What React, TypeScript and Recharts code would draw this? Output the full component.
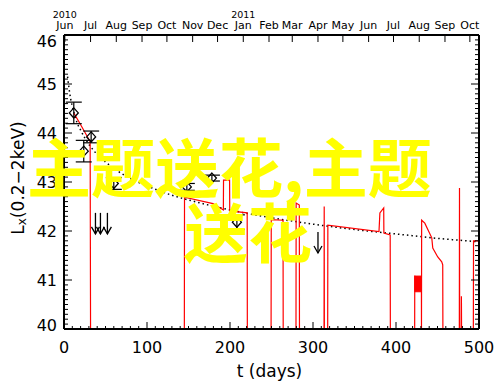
import React from 'react';
import { ComposedChart, Line, Scatter, XAxis, YAxis, ErrorBar, ReferenceArea, Label } from 'recharts';

const FONT = '"DejaVu Sans", sans-serif';

// dotted power-law decay model
const modelDays = [4.3, 6, 8, 10, 13, 16, 20, 25, 30, 40, 50, 65, 80, 100, 130, 160, 200, 250, 300, 350, 400, 450, 500];
const modelLx = [45.15, 44.92, 44.7, 44.55, 44.36, 44.2, 44.06, 43.9, 43.77, 43.56, 43.41, 43.22, 43.07, 42.92, 42.73, 42.59, 42.43, 42.27, 42.14, 42.03, 41.94, 41.85, 41.78];

// red light curve (40 = non-detection floor)
const curveDays = [12, 18, 26, 31.5, 32, 145, 145.2, 179.5, 192, 192.2, 199.5, 199.7, 220.7, 220.9, 249.5, 249.7, 263.9, 264.1, 279.5, 279.7, 283.5, 283.7, 313.3, 313.5, 313.7, 317.7, 317.9, 379.5, 380.6, 385.2, 385.4, 393, 393.2, 422.5, 422.6, 430.6, 430.7, 430.9, 434.7, 443.1, 444.3, 450.3, 455.1, 456.3, 456.5, 476.3, 476.5, 476.7, 478.7, 478.8, 479, 493.2, 493.4, 500];
const curveLx = [44.4, 44.23, 43.99, 43.82, 40, 40, 42.69, 42.56, 42.43, 43.04, 43.04, 42.41, 42.37, 40, 40, 42.23, 42.22, 40, 40, 42.57, 42.53, 40, 40, 42.5, 40, 40, 42.12, 41.99, 42.37, 42.47, 41.96, 41.92, 40, 40, 41.08, 41.02, 40, 42.22, 42.16, 41.86, 41.65, 41.47, 41.37, 41.31, 40, 40, 42.88, 40, 40, 40.67, 40, 40, 41.8, 41.8];

// rapid flaring block
const blockDays = [422.6, 430.6];
const blockLx = [40.76, 41.08];

// detections with errors
const detDays = [11.8, 23.8, 32.7, 60, 148, 178.2, 208.3];
const detLx = [44.41, 43.63, 43.92, 42.97, 42.9, 43.08, 42.18];
const detErr = [0.22, 0.22, 0.12, 0.12, 0.07, 0.06, 0.15];

// upper limits
const ulDays = [37.9, 43.9, 52.3, 306];
const ulLx = [42.37, 42.37, 42.37, 41.98];

// axis ticks
const xTicks = Array.from({ length: 51 }, (_, i) => i * 10);
const yTicks = Array.from({ length: 61 }, (_, i) => Math.round((40 + i * 0.1) * 10) / 10);
const monthDays = [1, 32, 63, 94, 124, 155, 185, 216, 247, 275, 306, 336, 367, 397, 428, 459, 489];
const monthLabels = ['Jun', 'Jul', 'Aug', 'Sep', 'Oct', 'Nov', 'Dec', 'Jan', 'Feb', 'Mar', 'Apr', 'May', 'Jun', 'Jul', 'Aug', 'Sep', 'Oct'];
const yearLabels = ['2010', '', '', '', '', '', '', '2011', '', '', '', '', '', '', '', '', ''];

const modelData = modelDays.map((d, i) => ({ day: d, lx: modelLx[i] }));
const curveData = curveDays.map((d, i) => ({ day: d, lx: curveLx[i] }));
const detData = detDays.map((d, i) => ({ day: d, lx: detLx[i], err: detErr[i] }));
const ulData = ulDays.map((d, i) => ({ day: d, lx: ulLx[i] }));

const renderBottomTick = (props: any) => {
  const { x, y, payload } = props;
  const v = payload.value;
  const major = v % 100 === 0;
  return (
    <g>
      <line x1={x} x2={x} y1={y} y2={y - (major ? 7 : 3)} stroke="#000" strokeWidth={1} />
      {major && (
        <text x={x} y={y + 24} textAnchor="middle" fontSize={16} fontFamily={FONT} fill="#000">
          {v}
        </text>
      )}
    </g>
  );
};

const renderTopTick = (props: any) => {
  const { x, y, payload } = props;
  const idx = monthDays.indexOf(payload.value);
  return (
    <g>
      <line x1={x} x2={x} y1={y} y2={y + 7} stroke="#000" strokeWidth={1} />
      <text x={x} y={y - 6} textAnchor="middle" fontSize={11} fontFamily={FONT} fill="#000">
        {monthLabels[idx]}
      </text>
      {yearLabels[idx] && (
        <text x={x} y={y - 17} textAnchor="middle" fontSize={9.5} fontFamily={FONT} fill="#000">
          {yearLabels[idx]}
        </text>
      )}
    </g>
  );
};

const isMajorY = (v: number) => Math.abs(v - Math.round(v)) < 1e-6;

const renderLeftTick = (props: any) => {
  const { x, y, payload } = props;
  const v = payload.value;
  const major = isMajorY(v);
  const shift = v === 46 ? 6 : v === 40 ? -4 : 0;
  return (
    <g>
      <line x1={x} x2={x + (major ? 8 : 4)} y1={y} y2={y} stroke="#000" strokeWidth={1} />
      {major && (
        <text x={x - 7} y={y + shift} dy="0.36em" textAnchor="end" fontSize={16} fontFamily={FONT} fill="#000">
          {Math.round(v)}
        </text>
      )}
    </g>
  );
};

const renderRightTick = (props: any) => {
  const { x, y, payload } = props;
  const major = isMajorY(payload.value);
  return <line x1={x} x2={x - (major ? 8 : 4)} y1={y} y2={y} stroke="#000" strokeWidth={1} />;
};

const Diamond = (props: any) => {
  const { cx, cy } = props;
  if (cx == null || cy == null) return null;
  return (
    <path
      d={`M${cx},${cy - 5} L${cx + 4.5},${cy} L${cx},${cy + 5} L${cx - 4.5},${cy} Z`}
      fill="none"
      stroke="#000"
      strokeWidth={1.3}
    />
  );
};

const Arrow = (props: any) => {
  const { cx, cy } = props;
  if (cx == null || cy == null) return null;
  return (
    <g stroke="#000" strokeWidth={1.3} fill="none">
      <line x1={cx} x2={cx} y1={cy} y2={cy + 21} />
      <polyline points={`${cx - 4},${cy + 14} ${cx},${cy + 21} ${cx + 4},${cy + 14}`} />
    </g>
  );
};

const BottomTitle = (props: any) => {
  const vb = props.viewBox || {};
  return (
    <text x={vb.x + vb.width / 2 - 2} y={vb.y + 48} textAnchor="middle" fontSize={17} fontFamily={FONT} fill="#000">
      t (days)
    </text>
  );
};

const LeftTitle = (props: any) => {
  const vb = props.viewBox || {};
  const cx = 17.5;
  const cy = vb.y + vb.height / 2 - 4;
  return (
    <text
      x={cx}
      y={cy}
      transform={`rotate(-90 ${cx} ${cy})`}
      textAnchor="middle"
      dominantBaseline="central"
      fontSize={17}
      fontFamily={FONT}
      fill="#000"
    >
      <tspan>L</tspan>
      <tspan dy={4} fontSize={12}>x</tspan>
      <tspan dy={-4}>(0.2−2keV)</tspan>
    </text>
  );
};

const axisLine = { stroke: '#000', strokeWidth: 2 };

export default function App() {
  return (
    <div style={{ position: 'absolute', left: 0, top: 0, width: 500, height: 385, background: '#fff' }}>
      <ComposedChart width={500} height={385} margin={{ top: 0, right: 0, bottom: 0, left: 0 }}>
        <XAxis
          xAxisId="b"
          dataKey="day"
          type="number"
          domain={[0, 500]}
          allowDataOverflow
          ticks={xTicks}
          interval={0}
          height={56}
          tickSize={0}
          tickMargin={0}
          tickLine={false}
          axisLine={axisLine}
          tick={renderBottomTick}
        >
          <Label content={<BottomTitle />} />
        </XAxis>
        <XAxis
          xAxisId="t"
          orientation="top"
          dataKey="day"
          type="number"
          domain={[0, 500]}
          allowDataOverflow
          ticks={monthDays}
          interval={0}
          height={35}
          tickSize={0}
          tickMargin={0}
          tickLine={false}
          axisLine={axisLine}
          tick={renderTopTick}
        />
        <YAxis
          yAxisId="l"
          type="number"
          domain={[40, 46]}
          allowDataOverflow
          ticks={yTicks}
          interval={0}
          width={64}
          tickSize={0}
          tickMargin={0}
          tickLine={false}
          axisLine={axisLine}
          tick={renderLeftTick}
        >
          <Label content={<LeftTitle />} />
        </YAxis>
        <YAxis
          yAxisId="r"
          orientation="right"
          type="number"
          domain={[40, 46]}
          allowDataOverflow
          ticks={yTicks}
          interval={0}
          width={21}
          tickSize={0}
          tickMargin={0}
          tickLine={false}
          axisLine={axisLine}
          tick={renderRightTick}
        />
        <Line
          xAxisId="b"
          yAxisId="l"
          data={modelData}
          dataKey="lx"
          type="monotone"
          stroke="#000"
          strokeWidth={1.5}
          strokeDasharray="1.5 3"
          dot={false}
          activeDot={false}
          isAnimationActive={false}
        />
        <Line
          xAxisId="b"
          yAxisId="l"
          data={curveData}
          dataKey="lx"
          type="linear"
          stroke="#ff0000"
          strokeWidth={1.2}
          dot={false}
          activeDot={false}
          isAnimationActive={false}
        />
        <ReferenceArea
          xAxisId="b"
          yAxisId="l"
          x1={blockDays[0]}
          x2={blockDays[1]}
          y1={blockLx[0]}
          y2={blockLx[1]}
          fill="#ff0000"
          fillOpacity={1}
          stroke="#ff0000"
        />
        <Scatter xAxisId="b" yAxisId="l" data={detData} dataKey="lx" shape={<Diamond />} isAnimationActive={false}>
          <ErrorBar dataKey="err" direction="y" width={8} stroke="#000" strokeWidth={1.2} isAnimationActive={false} />
        </Scatter>
        <Scatter xAxisId="b" yAxisId="l" data={ulData} dataKey="lx" shape={<Arrow />} isAnimationActive={false} />
      </ComposedChart>
      <svg width={500} height={385} style={{ position: 'absolute', left: 0, top: 0, pointerEvents: 'none' }}>
        <text x={27} y={192} fontSize={64} fontWeight={700} fill="#ffff00" fontFamily='"Noto Sans CJK SC", sans-serif'>
          主题送花,主题
        </text>
        <text x={184} y={257} fontSize={64} fontWeight={700} fill="#ffff00" fontFamily='"Noto Sans CJK SC", sans-serif'>
          送花
        </text>
      </svg>
    </div>
  );
}
